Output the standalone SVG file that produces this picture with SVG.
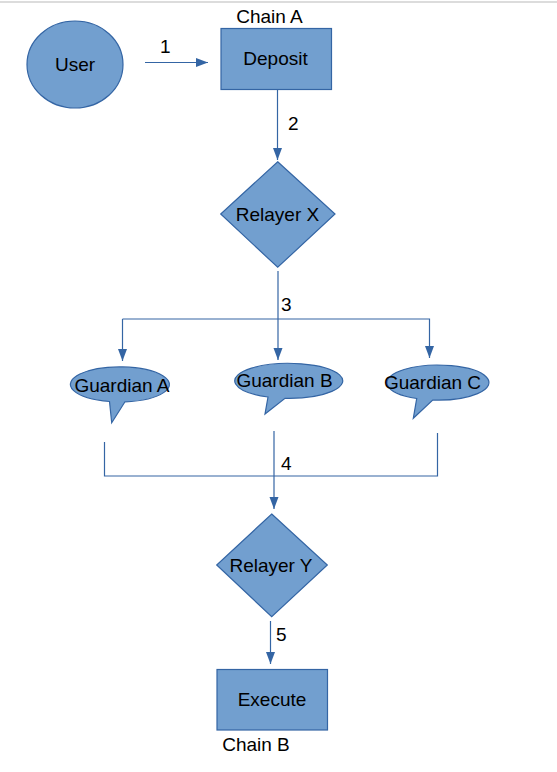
<svg xmlns="http://www.w3.org/2000/svg" width="557" height="772" viewBox="0 0 557 772">
<defs>
<marker id="arr" markerUnits="userSpaceOnUse" markerWidth="13" markerHeight="10" refX="12" refY="4.5" orient="auto">
<path d="M0,0 L12,4.5 L0,9 z" fill="#3465a4"/>
</marker>
<style>
.shape{fill:#729fcf;stroke:#3465a4;stroke-width:1.2}
.t{font-family:"Liberation Sans",Arial,sans-serif;font-size:19px;fill:#000;text-anchor:middle}
.lbl{font-family:"Liberation Sans",Arial,sans-serif;font-size:19px;fill:#000}
.c{fill:none;stroke:#3465a4;stroke-width:1.2}
</style>
</defs>
<rect width="557" height="772" fill="#fff"/>
<line x1="0" y1="2" x2="557" y2="2" stroke="#d0d0d0" stroke-width="1.5"/>
<g id="connectors">
<line class="c" x1="145" y1="62.5" x2="208" y2="62.5" marker-end="url(#arr)"/>
<line class="c" x1="277.5" y1="89.5" x2="277.5" y2="160" marker-end="url(#arr)"/>
<line class="c" x1="278" y1="271" x2="278" y2="360" marker-end="url(#arr)"/>
<polyline class="c" points="122.5,319 429.5,319 429.5,358" marker-end="url(#arr)"/>
<line class="c" x1="122.5" y1="319" x2="122.5" y2="361" marker-end="url(#arr)"/>
<polyline class="c" points="104.5,442 104.5,476 437.5,476 437.5,433"/>
<line class="c" x1="274" y1="431" x2="274" y2="509" marker-end="url(#arr)"/>
<line class="c" x1="270.5" y1="621" x2="270.5" y2="664" marker-end="url(#arr)"/>
<text class="lbl" x="160" y="53">1</text>
<text class="lbl" x="288" y="130">2</text>
<text class="lbl" x="281" y="311">3</text>
<text class="lbl" x="281" y="470">4</text>
<text class="lbl" x="276" y="641">5</text>
</g>
<g id="user">
<ellipse class="shape" cx="75" cy="64.5" rx="48" ry="43.5"/>
<text class="t" x="75" y="71">User</text>
</g>
<g id="deposit">
<rect class="shape" x="221" y="28.5" width="110.5" height="61"/>
<text class="t" x="275.5" y="65">Deposit</text>
<text class="t" x="269.5" y="23">Chain A</text>
</g>
<g id="relayerX">
<polygon class="shape" points="277.7,161.7 335,214 277.7,267.3 220.7,214"/>
<text class="t" x="277.5" y="221">Relayer X</text>
</g>
<g id="guardianA">
<path class="shape" d="M109.5,401.5 A49.5,17.5 0 1 1 125,401.8 L111.7,422.7 Z"/>
<text class="t" x="122" y="391.5">Guardian A</text>
</g>
<g id="guardianB">
<path class="shape" d="M268,397 A54,17.5 0 1 1 285,398.3 L265,414 Z"/>
<text class="t" x="284.5" y="387">Guardian B</text>
</g>
<g id="guardianC">
<path class="shape" d="M416.7,398.5 A51,17.5 0 1 1 432.7,400 L413.3,418.3 Z"/>
<text class="t" x="432.5" y="388.5">Guardian C</text>
</g>
<g id="relayerY">
<polygon class="shape" points="271.7,514 327.3,565 271.7,616.7 216.7,565"/>
<text class="t" x="271" y="572">Relayer Y</text>
</g>
<g id="execute">
<rect class="shape" x="217" y="669.5" width="110.5" height="60.5"/>
<text class="t" x="272" y="706">Execute</text>
<text class="t" x="256" y="750.5">Chain B</text>
</g>
</svg>
